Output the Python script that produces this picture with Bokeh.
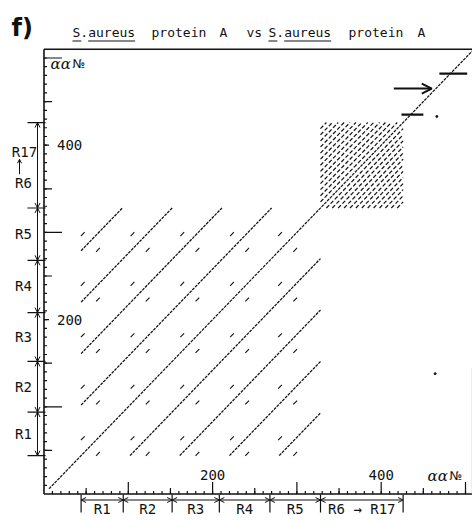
import numpy as np
from bokeh.plotting import figure
from bokeh.models import Range1d, Arrow, OpenHead
from bokeh.core.properties import value
from bokeh.embed import file_html
from bokeh.resources import INLINE

# ---------------- data ----------------
seq_len = 508                      # residues of S.aureus protein A
axis_top = 510                     # top edge of the dot-plot frame (aa)
repeat_labels = ["R1", "R2", "R3", "R4", "R5", "R6 → R17"]
repeat_bounds = [44, 94, 152, 208, 268, 328, 426]
homology_offsets = [58, 117, 176, 235]     # diagonals of the IgG-binding repeats
block_range = [44, 328]
octa_range = [328, 426]                    # Xr region, short repeats
octa_period = 7
weak_pos = [46, 105, 164, 223, 280]        # short weak-similarity dashes
weak_shift = 18
minor_ticks = list(range(10, 510, 10))
mid_ticks = [50, 150, 250, 350, 450]
long_ticks = [100, 300, 500]
label_ticks = [200, 400]
marker_bars_x0 = [469, 424]
marker_bars_x1 = [502, 450]
marker_bars_y = [482, 435]
pointer_x = [415, 460]
pointer_y = 465
stray_x = [466, 464]
stray_y = [433, 138]
title_words = ["S.aureus", "protein", "A", "vs", "S.aureus", "protein", "A"]

# ---------------- canvas geometry ----------------
W, H = 472, 521
OX, OY = 43.5, 493.5      # pixel position of aa 0 / aa 0
KX, KY = 0.843, 0.872     # pixels per residue
X0, X1 = -OX / KX, (W - OX) / KX
Y0, Y1 = (OY - H) / KY, OY / KY
dx, dy = 1 / KX, 1 / KY


def sx(px):
    return (px - OX) / KX


def sy(py):
    return (OY - py) / KY


p = figure(width=W, height=H, x_range=Range1d(X0, X1), y_range=Range1d(Y0, Y1),
           output_backend="svg", toolbar_location=None, min_border=0,
           x_axis_location=None, y_axis_location=None, title=None)
p.outline_line_color = None
p.grid.grid_line_color = None
p.background_fill_color = "white"
p.border_fill_color = "white"

INK = "#111111"
MONO = value("DejaVu Sans Mono")

# ---------------- dot plot ----------------
# main diagonal
p.segment(x0=[6], y0=[6], x1=[seq_len], y1=[seq_len], line_color=INK,
          line_width=1.2, line_dash="3 1")

# repeat homology diagonals
hx0, hy0, hx1, hy1 = [], [], [], []
b0, b1 = block_range
for d in homology_offsets:
    hx0 += [b0, b0 + d]
    hy0 += [b0 + d, b0]
    hx1 += [b1 - d, b1]
    hy1 += [b1, b1 - d]
p.segment(x0=hx0, y0=hy0, x1=hx1, y1=hy1, line_color=INK, line_width=1.25,
          line_dash="3 1")

# short-repeat hatch
o0, o1 = octa_range
ox0, oy0, ox1, oy1 = [], [], [], []
k = 1
while k * octa_period < (o1 - o0) - 3:
    d = k * octa_period
    ox0 += [o0, o0 + d]
    oy0 += [o0 + d, o0]
    ox1 += [o1 - d, o1]
    oy1 += [o1, o1 - d]
    k += 1
p.segment(x0=ox0, y0=oy0, x1=ox1, y1=oy1, line_color=INK, line_width=1.2,
          line_dash="4 2")

# weak similarity dashes
wx0, wy0, wx1, wy1 = [], [], [], []
for a in weak_pos:
    for b in weak_pos:
        for cx, cy in ((a, b + weak_shift), (a + weak_shift, b)):
            wx0.append(cx - 2.2)
            wy0.append(cy - 2.2)
            wx1.append(cx + 2.2)
            wy1.append(cy + 2.2)
p.segment(x0=wx0, y0=wy0, x1=wx1, y1=wy1, line_color=INK, line_width=1.1)

# markers in the upper right
p.segment(x0=marker_bars_x0, y0=marker_bars_y, x1=marker_bars_x1,
          y1=marker_bars_y, line_color=INK, line_width=2.2)
p.add_layout(Arrow(x_start=pointer_x[0], y_start=pointer_y, x_end=pointer_x[1],
                   y_end=pointer_y, line_width=2, line_color=INK,
                   end=OpenHead(size=10, line_width=2, line_color=INK)))
p.scatter(x=stray_x, y=stray_y, size=2, color=INK)

# ---------------- frame / axes ----------------
p.segment(x0=[0, 0, 0], y0=[0, 0, axis_top], x1=[seq_len, 0, seq_len],
          y1=[0, axis_top, axis_top], line_color=INK, line_width=1.6)
p.segment(x0=[seq_len], y0=[0], x1=[seq_len], y1=[145], line_color="#bbbbbb",
          line_width=1)


def xticks(vals, length_px):
    p.segment(x0=vals, y0=[0] * len(vals), x1=vals,
              y1=[length_px * dy] * len(vals), line_color=INK, line_width=1.2)


def yticks(vals, length_px):
    p.segment(x0=[0] * len(vals), y0=vals, x1=[length_px * dx] * len(vals),
              y1=vals, line_color=INK, line_width=1.2)


xticks(minor_ticks, 3)
xticks(mid_ticks, 6)
xticks(long_ticks, 12)
xticks(label_ticks, 12)
yticks(minor_ticks, 3)
yticks(mid_ticks, 8)
yticks(long_ticks, 18)
yticks(label_ticks, 5)

p.text(x=label_ticks, y=[14 * dy] * 2, text=[str(t) for t in label_ticks],
       text_font=MONO, text_font_size="14px", text_align="center",
       text_baseline="bottom", text_color=INK)
p.text(x=[13 * dx] * 2, y=label_ticks, text=[str(t) for t in label_ticks],
       text_font=MONO, text_font_size="14px", text_align="left",
       text_baseline="middle", text_color=INK)

# aa No. axis captions
p.text(x=[sx(427), sx(50)], y=[sy(475), sy(63)], text=["αα", "αα"],
       text_font=value("DejaVu Serif"), text_font_style="italic",
       text_font_size="15px", text_baseline="middle", text_color=INK)
p.text(x=[sx(449), sx(72)], y=[sy(475), sy(63)], text=["№", "№"],
       text_font=value("DejaVu Sans"), text_font_size="12px",
       text_baseline="middle", text_color=INK)

# ---------------- repeat dimension lines ----------------
head = dict(size=5, line_width=1, line_color=INK)
ydim = sy(499.5)
xdim = sx(37)
nb = len(repeat_bounds)
p.segment(x0=repeat_bounds, y0=[sy(494)] * nb, x1=repeat_bounds,
          y1=[sy(512)] * nb, line_color=INK, line_width=1.2)
p.segment(x0=[sx(27)] * nb, y0=repeat_bounds, x1=[sx(45)] * nb,
          y1=repeat_bounds, line_color=INK, line_width=1.2)
for a, b in zip(repeat_bounds[:-1], repeat_bounds[1:]):
    p.add_layout(Arrow(x_start=a, y_start=ydim, x_end=b, y_end=ydim,
                       line_width=1, line_color=INK,
                       start=OpenHead(**head), end=OpenHead(**head)))
    p.add_layout(Arrow(x_start=xdim, y_start=a, x_end=xdim, y_end=b,
                       line_width=1, line_color=INK,
                       start=OpenHead(**head), end=OpenHead(**head)))

mids = [(a + b) / 2 for a, b in zip(repeat_bounds[:-1], repeat_bounds[1:])]
p.text(x=mids, y=[sy(508.5)] * len(mids), text=repeat_labels, text_font=MONO,
       text_font_size="14px", text_align="center", text_baseline="middle",
       text_color=INK)
p.text(x=[sx(23)] * 5, y=mids[:5], text=repeat_labels[:5], text_font=MONO,
       text_font_size="14px", text_align="center", text_baseline="middle",
       text_color=INK)
top_mid = mids[5]
p.text(x=[sx(24), sx(23)], y=[top_mid + 13 * dy, top_mid - 18 * dy],
       text=["R17", "R6"], text_font=MONO, text_font_size="14px",
       text_align="center", text_baseline="middle", text_color=INK)
p.add_layout(Arrow(x_start=sx(19), y_start=top_mid - 9 * dy, x_end=sx(19),
                   y_end=top_mid + 6 * dy, line_width=1, line_color=INK,
                   end=OpenHead(size=4, line_width=1, line_color=INK)))

# ---------------- title ----------------
p.text(x=[sx(11)], y=[sy(27)], text=["f)"], text_font=value("DejaVu Sans"),
       text_font_style="bold", text_font_size="24px", text_baseline="alphabetic",
       text_color=INK)
word_px = [72, 151, 219, 246, 268, 348, 417]
p.text(x=[sx(v) for v in word_px], y=[sy(32)] * len(word_px), text=title_words,
       text_font=MONO, text_font_size="13px", text_baseline="alphabetic",
       text_color=INK)
cw = 13 * 0.602
ux0, ux1 = [], []
for w, px in zip(title_words, word_px):
    if w.startswith("S."):
        ux0 += [sx(px), sx(px + 2 * cw)]
        ux1 += [sx(px + cw + 1), sx(px + len(w) * cw)]
p.segment(x0=ux0, y0=[sy(40.5)] * len(ux0), x1=ux1, y1=[sy(40.5)] * len(ux1),
          line_color=INK, line_width=1.2)

open("out.html", "w").write(file_html(p, INLINE))
